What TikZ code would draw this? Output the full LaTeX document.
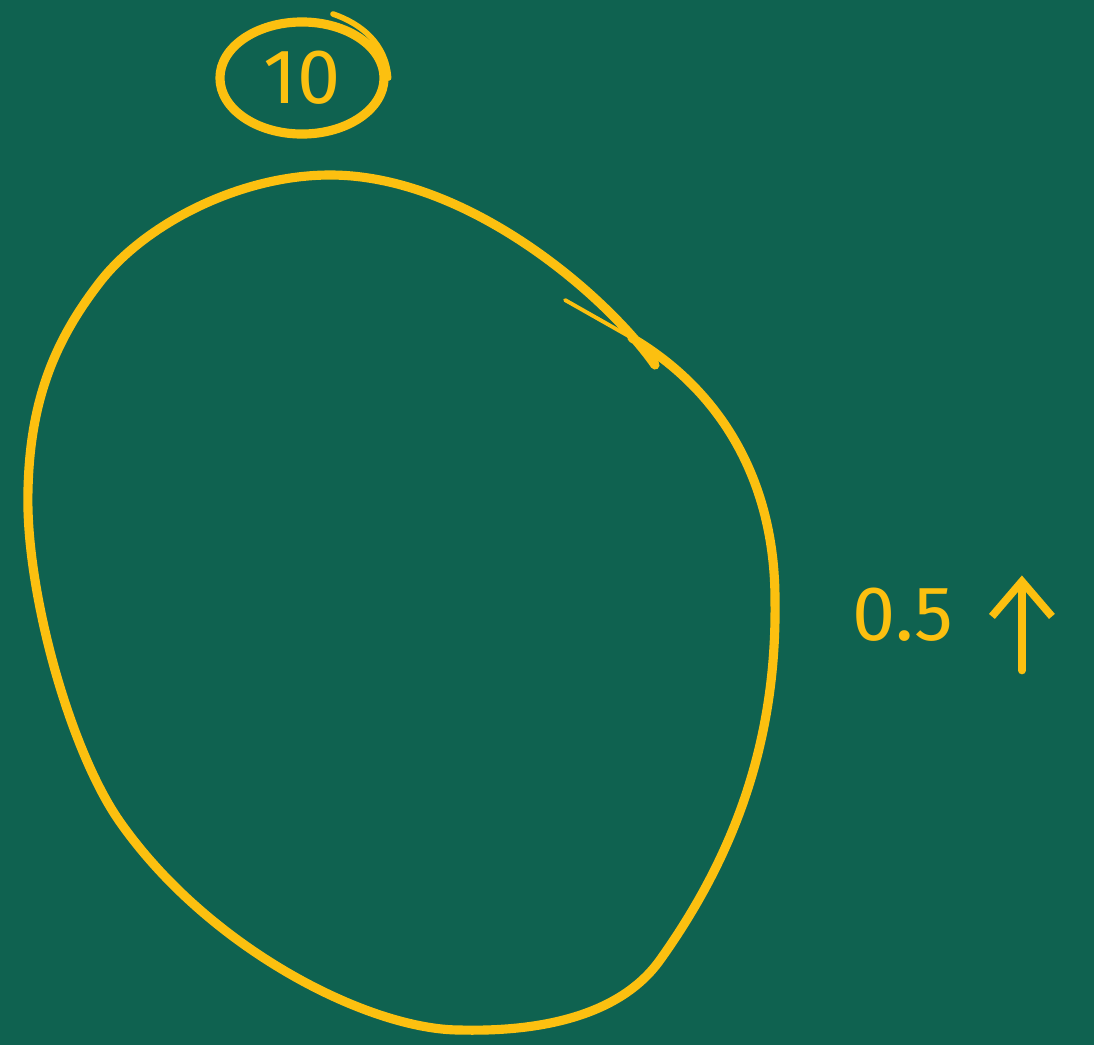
\documentclass[tikz,border=0pt]{standalone}
\usepackage{fontspec}
\setsansfont{Fira Sans}
\usetikzlibrary{arrows.meta,positioning,shapes.geometric}
\definecolor{board}{RGB}{15,98,80}
\definecolor{chalk}{RGB}{252,192,16}
\tikzset{ch/.style={draw=chalk,line width=2.6pt,line cap=round,line join=round},
 thin/.style={draw=chalk,line width=1.1pt,line cap=round},
 lbl/.style={text=chalk,font=\sffamily\fontsize{22}{22}\selectfont,inner sep=0pt}}
\begin{document}
\begin{tikzpicture}[x=0.01cm,y=-0.01cm]
\fill[board](0,0)rectangle(1094,1045);
\useasboundingbox(0,0)rectangle(1094,1045);
% circled count at the top
\node[ch,ellipse,minimum width=1.64cm,minimum height=1.12cm,lbl](ten) at (302,78){10};
\draw[thin,line width=1.6pt](333,14) .. controls (362,24) and (386,44) .. (ten.east);
% the loop
\draw[thin](565,300)--(632,338);
\draw[ch](632,338) .. controls (720,390) and (775,480) .. (775,600)
 .. controls (777,740) and (735,855) .. (660,960)
 .. controls (620,1016) and (540,1032) .. (460,1030)
 .. controls (370,1030) and (210,950) .. (120,822)
 .. controls (70,751) and (25,590) .. (28,490)
 .. controls (30,400) and (55,340) .. (100,282)
 .. controls (145,224) and (240,175) .. (330,175)
 .. controls (470,175) and (610,300) .. (655,365);
% step label at the right
\node[lbl](half) at (903,615){0.5};
\coordinate[right=0.68cm of half.south east](up);
\draw[ch,line width=2.2pt,-{Straight Barb[length=3.5mm,width=6mm]}]([yshift=-0.28cm]up)--++(0,-95);
\end{tikzpicture}
\end{document}
